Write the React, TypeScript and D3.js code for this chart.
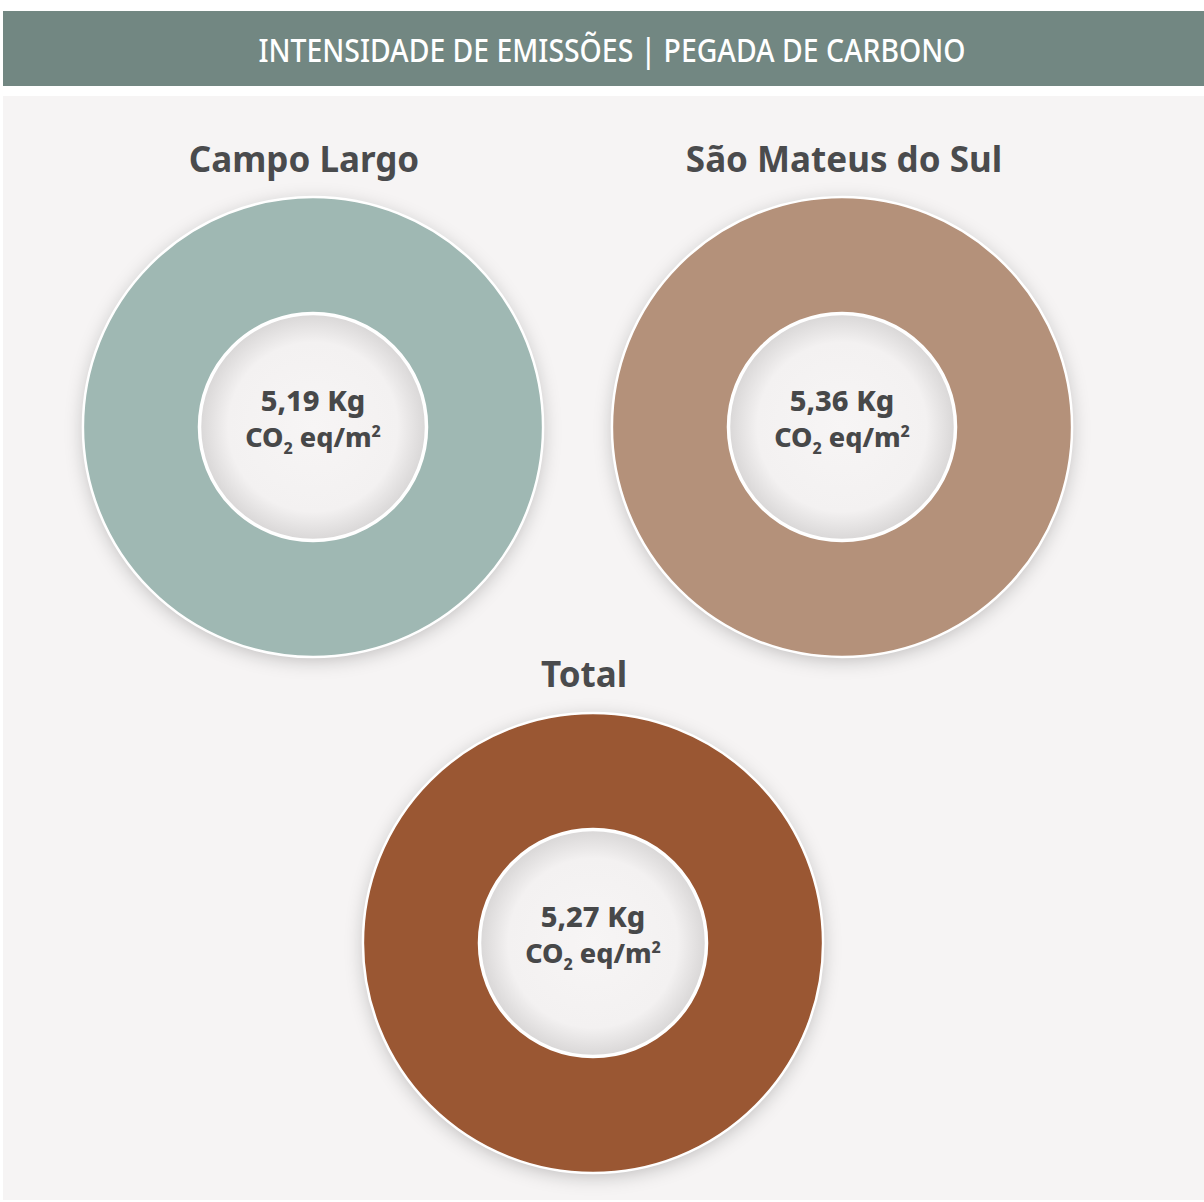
import * as d3 from "d3";
import { useEffect } from "react";

const sites = ["Campo Largo", "São Mateus do Sul", "Total"];
const values = [5.19, 5.36, 5.27];
const unitLabel = ["CO", "2", " eq/m", "2"];
const colors = ["#9fb8b3", "#b4917a", "#9a5733"];
const title = "INTENSIDADE DE EMISSÕES | PEGADA DE CARBONO";

const W = 1204;
const H = 1202;
const FONT = "'Noto Sans', 'Open Sans', sans-serif";

// centro de cada rosca
const centers: [number, number][] = [
  [313, 427],
  [842, 427],
  [593, 943],
];
const titlePos: [number, number][] = [
  [304, 172],
  [844, 172],
  [584, 687],
];

export default function App() {
  useEffect(() => {
    document.body.style.margin = "0";
  }, []);

  const outerR = 230;
  const innerR = 114;
  const arc = d3.arc<d3.PieArcDatum<number>>().innerRadius(innerR).outerRadius(outerR);
  const pie = d3.pie<number>().sort(null);
  const fmt = (v: number) => d3.format(".2f")(v).replace(".", ",") + " Kg";

  return (
    <svg width={W} height={H} style={{ display: "block" }} fontFamily={FONT}>
      <defs>
        <filter id="shadow" x="-20%" y="-20%" width="140%" height="140%">
          <feDropShadow dx="0" dy="4" stdDeviation="9" floodColor="#000" floodOpacity="0.22" />
        </filter>
        <radialGradient id="hole" cx="50%" cy="50%" r="50%">
          <stop offset="0%" stopColor="#f7f5f5" />
          <stop offset="75%" stopColor="#f3f1f1" />
          <stop offset="100%" stopColor="#d9d7d7" />
        </radialGradient>
      </defs>
      <rect width={W} height={H} fill="#fff" />
      <rect x={3} y={11} width={W - 3} height={75} fill="#728782" />
      <text
        x={612}
        y={62}
        textAnchor="middle"
        fill="#fff"
        fontSize={33}
        fontWeight={500}
        textLength={707}
        lengthAdjust="spacingAndGlyphs"
      >
        {title}
      </text>
      <rect x={3} y={96} width={W - 3} height={H - 98} fill="#f6f4f4" />

      {sites.map((s, i) => {
        const [cx, cy] = centers[i];
        const [tx, ty] = titlePos[i];
        return (
          <g key={s}>
            <text x={tx} y={ty} textAnchor="middle" fill="#4a4b4d" fontSize={35} fontWeight={700}>
              {s}
            </text>
            <g transform={`translate(${cx},${cy})`}>
              <circle r={outerR} fill="#fff" filter="url(#shadow)" />
              {pie([values[i]]).map((d, j) => (
                <path key={j} d={arc(d) ?? ""} fill={colors[i]} stroke="#fff" strokeWidth={2.5} />
              ))}
              <circle r={innerR - 1} fill="url(#hole)" stroke="#fff" strokeWidth={2.5} />
              <text y={-16} textAnchor="middle" fill="#474849" fontSize={29} fontWeight={800}>
                {fmt(values[i])}
              </text>
              <text y={20} textAnchor="middle" fill="#474849" fontSize={27} fontWeight={800}>
                {unitLabel[0]}
                <tspan fontSize={16} dy={7}>{unitLabel[1]}</tspan>
                <tspan dy={-7}>{unitLabel[2]}</tspan>
                <tspan fontSize={16} dy={-10}>{unitLabel[3]}</tspan>
              </text>
            </g>
          </g>
        );
      })}
    </svg>
  );
}
